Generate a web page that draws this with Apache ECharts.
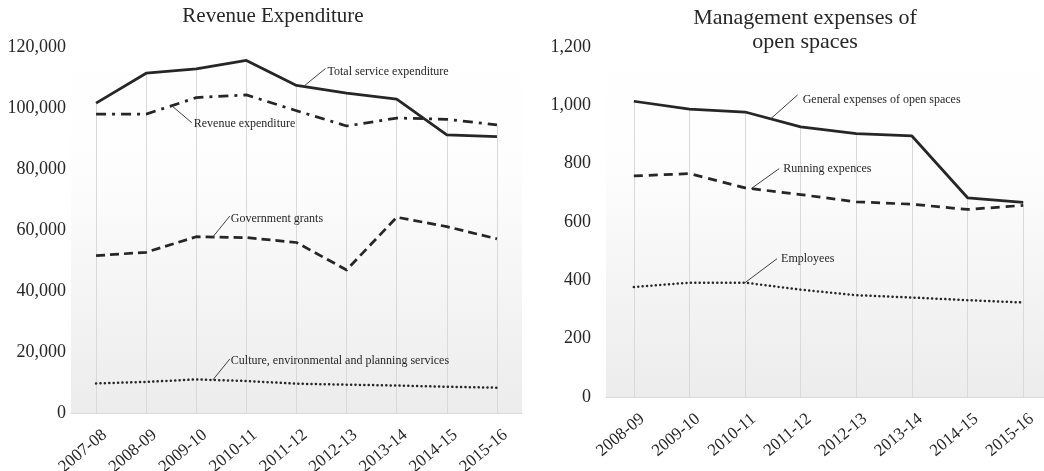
<!DOCTYPE html>
<html>
<head>
<meta charset="utf-8">
<script src="https://cdn.jsdelivr.net/npm/echarts@6/dist/echarts.min.js"></script>
<style>html,body{margin:0;padding:0;background:#fff}#c{width:1044px;height:471px}</style>
</head>
<body>
<div id="c"></div>
<script>
// ---- Data: Revenue Expenditure ----
const catsLeft = ['2007-08','2008-09','2009-10','2010-11','2011-12','2012-13','2013-14','2014-15','2015-16'];
const totalService = [101600,111400,112800,115600,107400,104900,102900,91200,90600];
const revenueExpenditure = [98000,98000,103400,104300,99100,94100,96700,96300,94500];
const governmentGrants = [51600,52700,57800,57500,55900,46900,64200,61100,57100];
const cultureEnvPlanning = [9700,10200,11000,10500,9600,9300,9000,8600,8300];
const leftTicks = {min:0, max:120000, interval:20000};

// ---- Data: Management expenses of open spaces ----
const catsRight = ['2008-09','2009-10','2010-11','2011-12','2012-13','2013-14','2014-15','2015-16'];
const generalExpenses = [1014,987,977,926,903,895,683,667];
const runningExpences = [758,766,717,694,669,661,643,657];
const employees = [377,392,392,368,349,341,332,324];
const rightTicks = {min:0, max:1200, interval:200};

const FONT = '"Liberation Serif", "Times New Roman", serif';
const INK = '#262626';

const chart = echarts.init(document.getElementById('c'), null, {renderer:'canvas'});

function bg(){
  return new echarts.graphic.LinearGradient(0,0,0,1,[{offset:0,color:'#ffffff'},{offset:0.35,color:'#fdfdfd'},{offset:1,color:'#ececec'}]);
}
function dropLines(seriesList){
  const n = seriesList[0].length;
  const out = [];
  for (let i=0;i<n;i++){
    const top = Math.max.apply(null, seriesList.map(s=>s[i]));
    out.push([{coord:[i,0]},{coord:[i,top]}]);
  }
  return {
    silent:true, symbol:['none','none'], z:1, animation:false,
    label:{show:false}, emphasis:{disabled:true},
    lineStyle:{color:'#d9d9d9', width:1, type:'solid'},
    data: out
  };
}
function xAxis(gi, cats){
  return {
    type:'category', gridIndex:gi, data:cats, boundaryGap:true,
    axisLine:{show:true, lineStyle:{color:'#d9d9d9', width:1}},
    axisTick:{show:false},
    splitLine:{show:false},
    axisLabel:{rotate:40, margin:16, fontFamily:FONT, fontSize:17, color:INK, interval:0,
      verticalAlign:'top', padding:[0,-4,0,0]}
  };
}
function yAxis(gi, t, margin){
  return {
    type:'value', gridIndex:gi, min:t.min, max:t.max, interval:t.interval,
    axisLine:{show:false}, axisTick:{show:false}, splitLine:{show:false},
    axisLabel:{margin:margin, fontFamily:FONT, fontSize:18, color:INK,
      formatter:v=>v.toLocaleString('en-US')}
  };
}
function line(name, gi, data, type, width, cap){
  return {
    name, type:'line', xAxisIndex:gi, yAxisIndex:gi, data,
    symbol:'none', z:2, animation:false, silent:true,
    lineStyle:{color:INK, width:width, type:type, cap:cap||'butt', join:'round'}
  };
}

const sL0 = line('Total service expenditure',0,totalService,'solid',2.75);
sL0.markLine = dropLines([totalService,revenueExpenditure,governmentGrants,cultureEnvPlanning]);
const sR0 = line('General expenses of open spaces',1,generalExpenses,'solid',2.75);
sR0.markLine = dropLines([generalExpenses,runningExpences,employees]);

chart.setOption({
  animation:false,
  backgroundColor:'#ffffff',
  title:[
    {text:'Revenue Expenditure', left:268, top:1, textAlign:'center',
     textStyle:{fontFamily:FONT, fontSize:21, fontWeight:'normal', color:INK}},
    {text:'Management expenses of\nopen spaces', left:800, top:1, textAlign:'center',
     textStyle:{fontFamily:FONT, fontSize:22, fontWeight:'normal', color:INK, lineHeight:24}}
  ],
  grid:[
    {left:71, right:522, top:47, bottom:58, show:true, borderWidth:0, backgroundColor:bg(),
     containLabel:false, outerBoundsMode:'none'},
    {left:606, right:-7, top:47, bottom:74, show:true, borderWidth:0, backgroundColor:bg(),
     containLabel:false, outerBoundsMode:'none'}
  ],
  xAxis:[xAxis(0,catsLeft), xAxis(1,catsRight)],
  yAxis:[yAxis(0,leftTicks,5), yAxis(1,rightTicks,15)],
  series:[
    sL0,
    line('Revenue expenditure',0,revenueExpenditure,[10,6,3,6],2.75),
    line('Government grants',0,governmentGrants,[9,5],2.75),
    line('Culture, environmental and planning services',0,cultureEnvPlanning,[0.1,4.3],2.5,'round'),
    sR0,
    line('Running expences',1,runningExpences,[9,6],2.75),
    line('Employees',1,employees,[0.1,4.3],2.5,'round')
  ]
});

// Annotation callouts anchored to points on the lines (segment i -> i+1 at fraction t)
const notes = [
  {text:'Total service expenditure', grid:0, data:totalService, i:4, t:0.14, lx:22, ly:-18, tx:24, ty:-15},
  {text:'Revenue expenditure', grid:0, data:revenueExpenditure, i:1, t:0.51, lx:20, ly:17, tx:22, ty:18},
  {text:'Government grants', grid:0, data:governmentGrants, i:2, t:0.33, lx:17, ly:-21, tx:18, ty:-18},
  {text:'Culture, environmental and planning services', grid:0, data:cultureEnvPlanning, i:2, t:0.33, lx:17, ly:-21, tx:18, ty:-19},
  {text:'General expenses of open spaces', grid:1, data:generalExpenses, i:2, t:0.46, lx:27, ly:-24, tx:32, ty:-19},
  {text:'Running expences', grid:1, data:runningExpences, i:2, t:0.11, lx:28, ly:-20, tx:32, ty:-20},
  {text:'Employees', grid:1, data:employees, i:2, t:0, lx:32, ly:-24, tx:36, ty:-24}
];
const g = [];
notes.forEach(n=>{
  const a = chart.convertToPixel({gridIndex:n.grid},[n.i, n.data[n.i]]);
  const b = chart.convertToPixel({gridIndex:n.grid},[n.i+1, n.data[n.i+1]]);
  const x = a[0]+(b[0]-a[0])*n.t, y = a[1]+(b[1]-a[1])*n.t;
  g.push({type:'line', silent:true, z:10, shape:{x1:x, y1:y, x2:x+n.lx, y2:y+n.ly},
          style:{stroke:'#404040', lineWidth:1}});
  g.push({type:'text', silent:true, z:10, x:x+n.tx, y:y+n.ty,
          style:{text:n.text, font:'12px '+FONT, fill:INK, textVerticalAlign:'middle', textAlign:'left'}});
});
chart.setOption({graphic:g});
</script>
</body>
</html>
